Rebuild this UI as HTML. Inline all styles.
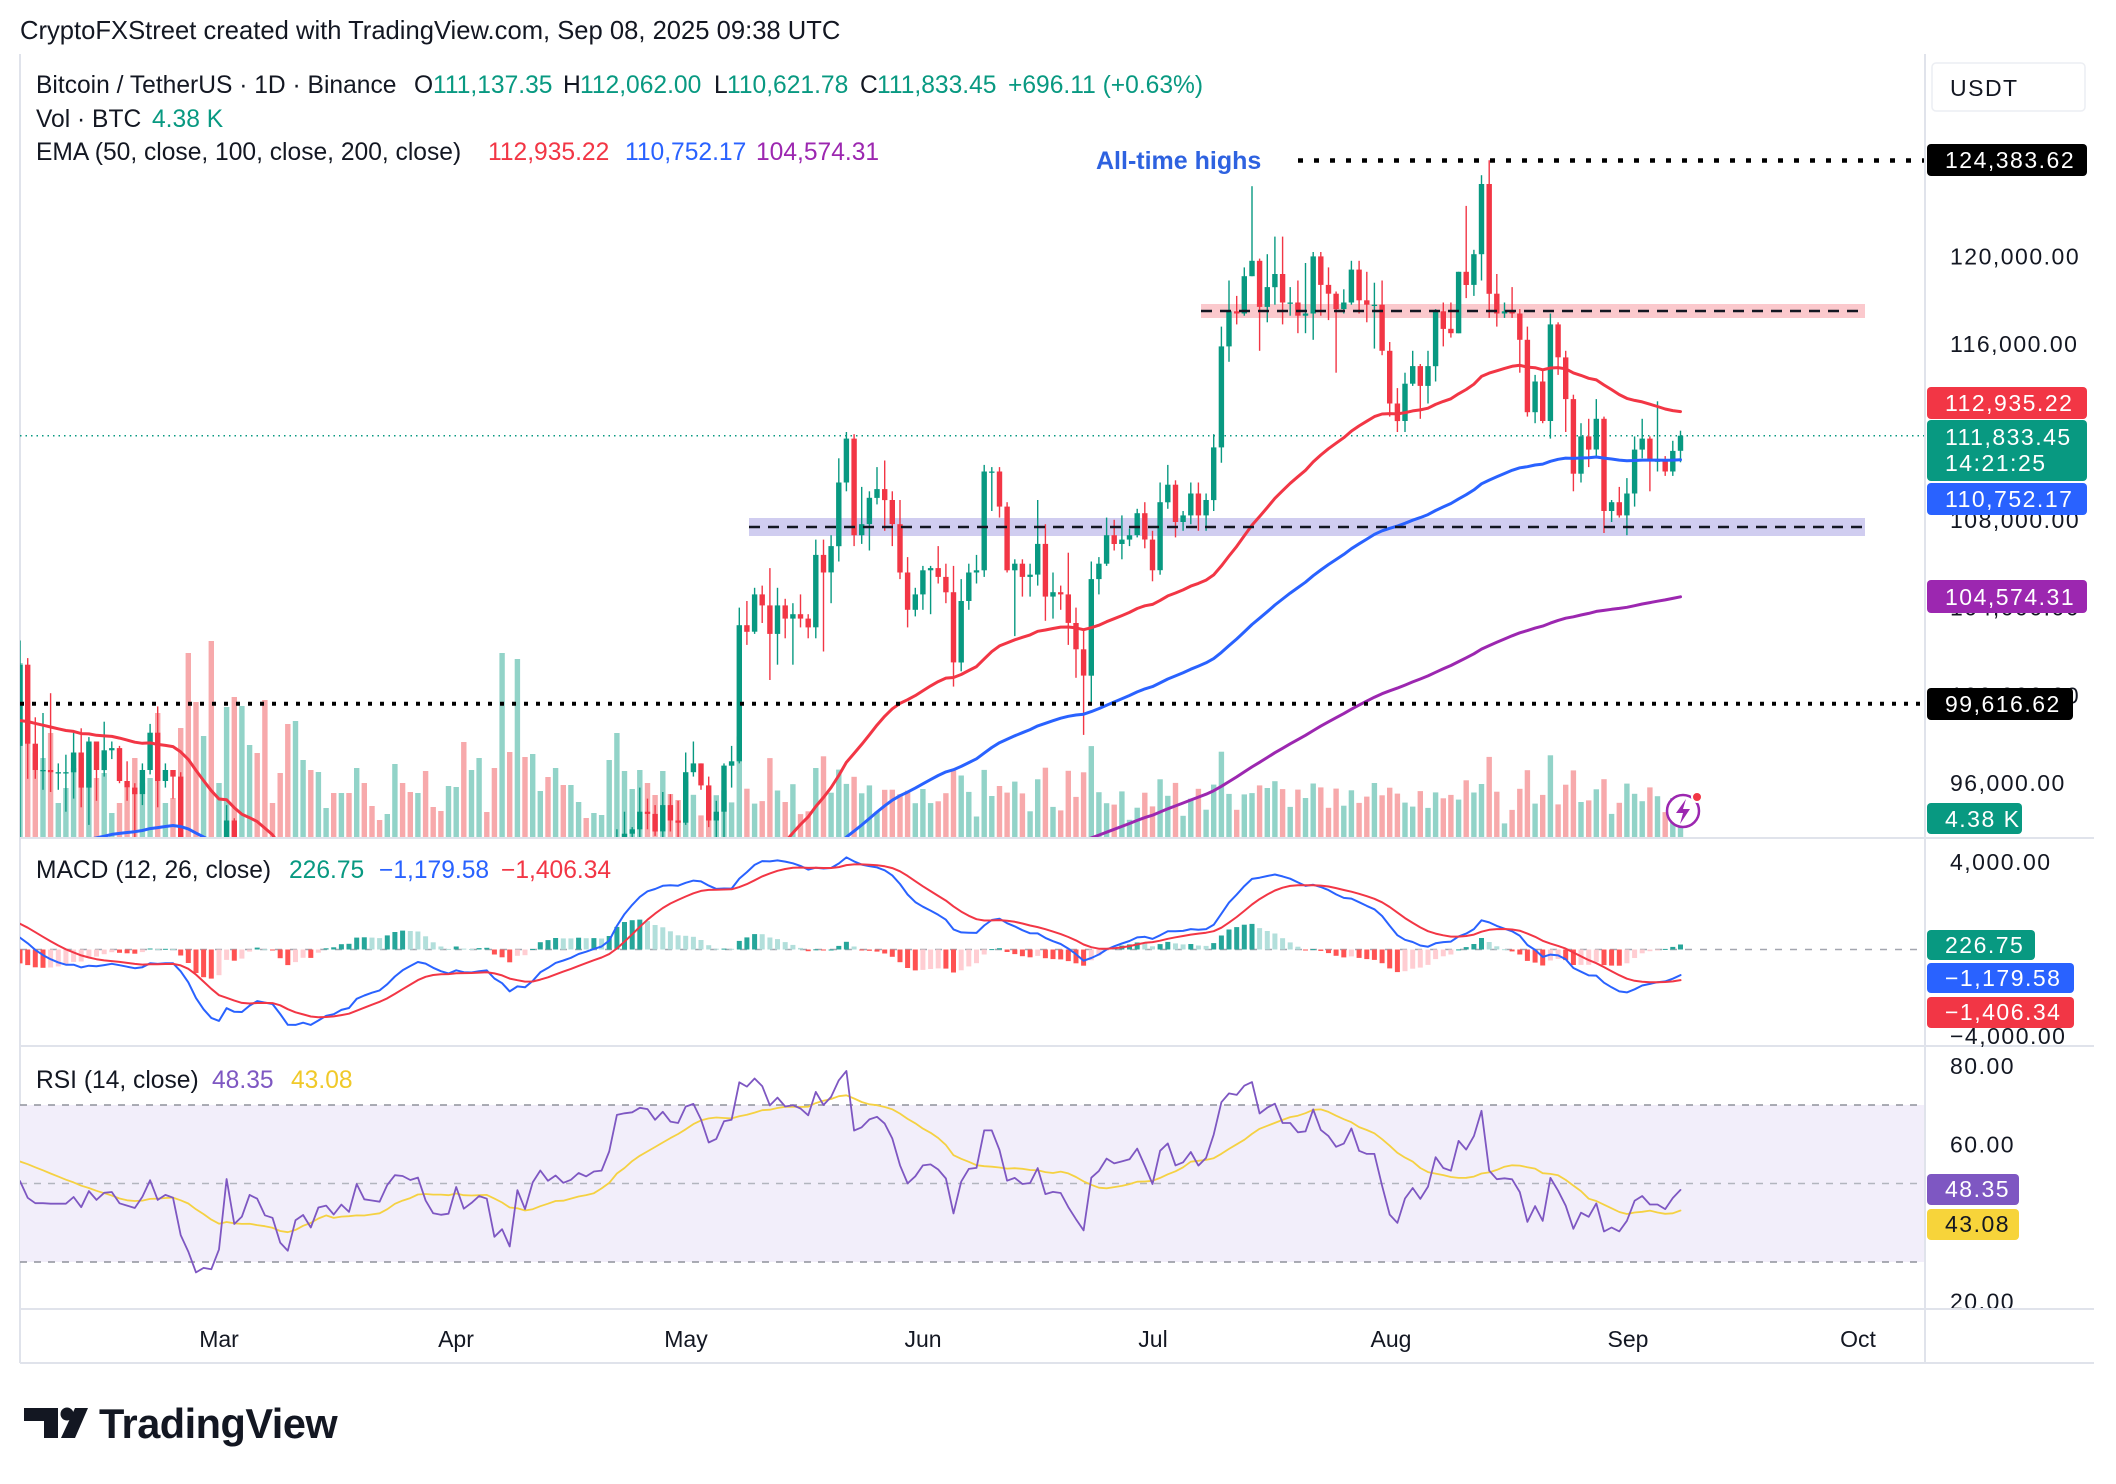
<!DOCTYPE html>
<html><head><meta charset="utf-8">
<style>
html,body{margin:0;padding:0;background:#fff;}
svg{display:block;}
text{font-family:"Liberation Sans",Arial,sans-serif;}
.ax{font-size:23px;fill:#131722;letter-spacing:1.5px;}
.bx{font-size:23px;fill:#fff;letter-spacing:1.5px;}
.lg{font-size:24.6px;}
</style></head>
<body>
<svg id="s" xmlns="http://www.w3.org/2000/svg" width="2116" height="1484" viewBox="0 0 2116 1484">
<defs>
<clipPath id="cm"><rect x="20" y="54" width="1904" height="783"/></clipPath>
<clipPath id="cd"><rect x="20" y="839" width="1904" height="206"/></clipPath>
<clipPath id="cr"><rect x="20" y="1047" width="1904" height="261"/></clipPath>
<clipPath id="ar"><rect x="1926" y="1047" width="190" height="261"/></clipPath>
</defs>
<rect width="2116" height="1484" fill="#fff"/>
<text x="20" y="39" font-size="25.6" fill="#131722">CryptoFXStreet created with TradingView.com, Sep 08, 2025 09:38 UTC</text>

<g stroke="#e0e3eb" stroke-width="2">
 <line x1="20" y1="54" x2="20" y2="1363"/>
 <line x1="1925" y1="54" x2="1925" y2="1363"/>
 <line x1="20" y1="838" x2="2094" y2="838"/>
 <line x1="20" y1="1046" x2="2094" y2="1046"/>
 <line x1="20" y1="1309" x2="2094" y2="1309"/>
 <line x1="20" y1="1363" x2="2094" y2="1363"/>
</g>

<rect x="20" y="1105" width="1904" height="157" fill="#f2eefa"/>
<g stroke="#8f929b" stroke-width="1.4" stroke-dasharray="7 7">
 <line x1="20" y1="1105" x2="1924" y2="1105"/>
 <line x1="20" y1="1183.5" x2="1924" y2="1183.5" stroke="#b2b5be"/>
 <line x1="20" y1="1262" x2="1924" y2="1262"/>
</g>
<line x1="20" y1="949.5" x2="1924" y2="949.5" stroke="#a3a6af" stroke-width="1.4" stroke-dasharray="7 8"/>

<g id="main" clip-path="url(#cm)"></g>
<g id="macd" clip-path="url(#cd)"></g>
<g id="rsi" clip-path="url(#cr)"></g>

<text x="1096" y="169" font-size="25" font-weight="bold" fill="#2e62e0">All-time highs</text>

<g>
 <circle cx="1683" cy="811" r="16" fill="#fff" stroke="#9c27b0" stroke-width="2.5"/>
 <path d="M1686 799 L1676 813 L1683 813 L1680 824 L1690 809 L1683 809 Z" fill="#9c27b0"/>
 <circle cx="1697" cy="797" r="5" fill="#f23645" stroke="#fff" stroke-width="2"/>
</g>

<g class="lg">
 <text x="36" y="93" fill="#131722">Bitcoin / TetherUS · 1D · Binance</text>
 <text x="414" y="93" fill="#131722">O</text><text x="433" y="93" fill="#089981">111,137.35</text>
 <text x="563" y="93" fill="#131722">H</text><text x="580" y="93" fill="#089981">112,062.00</text>
 <text x="714" y="93" fill="#131722">L</text><text x="727" y="93" fill="#089981">110,621.78</text>
 <text x="860" y="93" fill="#131722">C</text><text x="877" y="93" fill="#089981">111,833.45</text>
 <text x="1008" y="93" fill="#089981">+696.11 (+0.63%)</text>
 <text x="36" y="127" fill="#131722">Vol · BTC</text><text x="152" y="127" fill="#089981">4.38 K</text>
 <text x="36" y="160" fill="#131722">EMA (50, close, 100, close, 200, close)</text>
 <text x="488" y="160" fill="#f23645">112,935.22</text>
 <text x="625" y="160" fill="#2962ff">110,752.17</text>
 <text x="756" y="160" fill="#9c27b0">104,574.31</text>
 <text x="36" y="878" fill="#131722">MACD (12, 26, close)</text>
 <text x="289" y="878" fill="#089981">226.75</text>
 <text x="379" y="878" fill="#2962ff">−1,179.58</text>
 <text x="501" y="878" fill="#f23645">−1,406.34</text>
 <text x="36" y="1088" fill="#131722">RSI (14, close)</text>
 <text x="212" y="1088" fill="#7e57c2">48.35</text>
 <text x="291" y="1088" fill="#f0c929">43.08</text>
</g>

<rect x="1932" y="63" width="153" height="48" rx="4" fill="#fff" stroke="#eceef3" stroke-width="1.5"/>
<text x="1950" y="96" class="ax">USDT</text>
<g class="ax">
 <text x="1950" y="264.4">120,000.00</text>
 <text x="1950" y="352.2">116,000.00</text>
 <text x="1950" y="440">112,000.00</text>
 <text x="1950" y="527.8">108,000.00</text>
 <text x="1950" y="615.6">104,000.00</text>
 <text x="1950" y="703.4">100,000.00</text>
 <text x="1950" y="791.2">96,000.00</text>
 <text x="1950" y="870">4,000.00</text>
 <text x="1950" y="1044">−4,000.00</text>
</g>
<g class="ax" clip-path="url(#ar)">
 <text x="1950" y="1074">80.00</text>
 <text x="1950" y="1152.5">60.00</text>
 <text x="1950" y="1231">40.00</text>
 <text x="1950" y="1309.5">20.00</text>
</g>

<g>
 <rect x="1927" y="144" width="160" height="32" rx="4" fill="#000"/><text x="1945" y="168" class="bx">124,383.62</text>
 <rect x="1927" y="387" width="160" height="32" rx="4" fill="#f23645"/><text x="1945" y="411" class="bx">112,935.22</text>
 <rect x="1927" y="420" width="160" height="61" rx="4" fill="#089981"/><text x="1945" y="445" class="bx">111,833.45</text><text x="1945" y="471" class="bx">14:21:25</text>
 <rect x="1927" y="483" width="160" height="32" rx="4" fill="#2962ff"/><text x="1945" y="507" class="bx">110,752.17</text>
 <rect x="1927" y="580" width="160" height="33" rx="4" fill="#9c27b0"/><text x="1945" y="605" class="bx">104,574.31</text>
 <rect x="1927" y="688" width="146" height="32" rx="4" fill="#000"/><text x="1945" y="712" class="bx">99,616.62</text>
 <rect x="1927" y="803" width="95" height="31" rx="4" fill="#089981"/><text x="1945" y="827" class="bx">4.38 K</text>
 <rect x="1927" y="930" width="108" height="30" rx="4" fill="#089981"/><text x="1945" y="953" class="bx">226.75</text>
 <rect x="1927" y="963" width="147" height="30" rx="4" fill="#2962ff"/><text x="1945" y="986" class="bx">−1,179.58</text>
 <rect x="1927" y="997" width="147" height="31" rx="4" fill="#f23645"/><text x="1945" y="1020" class="bx">−1,406.34</text>
 <rect x="1927" y="1174" width="92" height="31" rx="4" fill="#7e57c2"/><text x="1945" y="1197" class="bx">48.35</text>
 <rect x="1927" y="1209" width="92" height="31" rx="4" fill="#f7d43a"/><text x="1945" y="1232" class="bx" style="fill:#131722">43.08</text>
</g>

<g font-size="23" fill="#131722" text-anchor="middle">
 <text x="219" y="1347">Mar</text>
 <text x="456" y="1347">Apr</text>
 <text x="686" y="1347">May</text>
 <text x="923" y="1347">Jun</text>
 <text x="1153" y="1347">Jul</text>
 <text x="1391" y="1347">Aug</text>
 <text x="1628" y="1347">Sep</text>
 <text x="1858" y="1347">Oct</text>
</g>

<g fill="#131722">
 <path d="M24 1408 H58 V1438 H44 V1421 H24 Z"/>
 <circle cx="67" cy="1414" r="6.5"/>
 <path d="M75 1408 H88 L75 1438 H61 Z"/>
 <text x="99" y="1438" font-size="41.5" font-weight="bold" letter-spacing="-0.5">TradingView</text>
</g>
</svg>

<script>
(function(){
var D=[
101.4,102.5,91.2, 97.8,101.7,96.2, 96.6,99.0,96.2, 96.6,99.2,95.7, 96.5,100.1,95.6, 96.5,96.9,95.7, 96.5,97.3,94.7, 97.4,98.3,95.3, 95.8,98.5,94.9, 97.9,98.1,94.1,
96.6,97.3,95.2, 97.5,98.8,96.3, 97.6,97.9,97.1, 96.1,97.7,96.0, 95.8,97.0,95.2, 95.5,96.0,93.4, 96.6,96.9,95.0, 98.3,98.7,96.4, 96.1,99.5,94.9, 96.6,96.9,95.8,
96.3,96.5,95.3, 91.5,96.5,91.2, 88.7,92.5,86.1, 84.3,89.3,82.3, 84.7,87.1,82.7, 84.4,85.0,78.3,
86.1,86.6,83.6, 94.3,95.0,85.0, 86.1,94.4,85.1, 87.2,88.9,81.5, 90.6,91.0,86.4, 89.9,92.8,87.8, 86.7,91.2,84.7, 86.2,86.9,85.2, 80.7,86.5,80.0, 78.6,83.9,77.5,
82.9,83.6,76.6, 83.7,84.4,80.6, 81.0,84.3,79.9, 84.0,85.3,80.8, 84.3,84.7,83.6, 82.6,85.0,82.0, 84.0,84.7,82.5, 82.7,84.0,81.1, 86.8,87.4,82.1, 84.2,87.4,83.2,
84.0,84.8,83.2, 83.8,84.5,83.6, 86.1,86.2,83.7, 87.5,88.8,85.5, 87.4,88.5,86.3, 86.9,88.3,85.9, 87.2,87.8,85.8, 84.4,87.5,83.6, 82.6,84.6,81.6, 82.4,83.9,81.3,
82.5,83.9,81.3,
85.2,85.6,82.4, 82.5,88.5,82.3, 83.1,83.9,81.2, 83.8,84.7,81.7, 83.5,84.2,82.4, 78.4,83.8,77.2, 79.1,81.2,74.5, 76.3,80.8,76.2, 82.6,83.5,74.6, 79.6,82.7,78.5,
83.4,84.3,78.9, 85.3,85.9,82.0, 83.8,86.1,83.0, 84.6,85.8,83.6, 83.6,86.5,83.6, 84.0,85.5,83.1, 84.9,85.5,83.9, 84.5,85.0,84.1, 85.1,85.6,84.3, 85.2,85.3,83.9,
87.5,88.9,85.1, 93.4,93.9,87.6, 93.7,94.7,91.9, 93.9,94.0,91.7, 94.7,95.8,92.9, 94.6,95.3,93.9, 93.8,95.0,93.6, 95.0,95.6,92.9, 94.3,95.5,93.8, 94.2,95.2,92.9,
96.5,97.4,94.1, 96.9,97.9,96.3, 95.9,96.9,95.7, 94.3,96.3,94.0, 94.7,95.2,93.5, 96.8,96.9,93.4, 97.0,97.7,95.8, 103.2,104.0,96.9, 102.9,104.3,102.3, 104.6,104.9,102.8,
104.1,105.0,103.3, 102.8,105.8,100.7, 104.1,104.9,101.4, 103.5,104.4,102.6, 103.7,104.2,101.4, 103.5,104.6,103.1, 103.1,103.7,102.6, 106.4,107.1,102.6, 105.6,107.1,102.0, 106.8,107.3,104.2,
109.7,110.8,106.1, 111.7,112.0,109.3, 107.3,111.9,106.8, 107.8,109.5,106.9, 109.0,109.3,106.6, 109.4,110.4,108.7, 108.9,110.7,107.5, 107.8,109.3,106.8, 105.6,108.9,105.3, 103.9,106.3,103.1,
104.6,104.9,103.6,
105.7,105.9,103.9, 105.8,105.9,103.7, 105.4,106.8,105.1, 104.7,106.0,104.2, 101.5,105.9,100.4, 104.3,105.3,101.1, 105.6,106.0,103.9, 105.7,106.4,105.1, 110.2,110.5,105.4, 110.2,110.4,108.4,
108.6,110.4,108.1, 105.7,108.8,105.6, 106.0,106.2,102.7, 105.4,106.2,104.5, 105.5,106.0,104.5, 106.9,108.9,105.0, 104.5,107.8,103.4, 104.7,105.6,103.5, 104.6,105.0,103.9, 103.3,106.5,102.3,
102.1,104.0,100.8, 100.9,103.0,98.2, 105.3,106.1,99.6, 106.0,106.3,104.6, 107.3,108.1,105.9, 106.9,108.0,106.6, 107.1,108.2,106.2, 107.3,107.6,106.8, 108.3,108.5,107.2, 107.1,108.8,106.7,
105.7,107.5,105.2, 108.8,109.7,105.5, 109.6,110.5,108.5, 107.9,109.8,107.2, 108.2,108.4,107.5, 109.2,109.7,107.8, 108.2,109.7,107.5, 108.9,109.2,107.5, 111.3,111.9,108.4, 115.9,116.8,110.6,
117.5,118.9,115.2, 117.4,118.2,116.9, 119.1,119.5,117.3, 119.8,123.2,119.1, 117.7,119.9,115.7, 118.6,120.1,117.0, 119.2,120.9,117.8, 117.9,120.9,116.9, 117.9,118.6,117.3, 117.3,118.9,116.5,
117.4,119.7,116.5, 120.0,120.2,116.2, 118.7,120.2,117.3, 118.3,119.5,117.1, 117.6,118.4,114.7, 117.9,118.5,117.4, 119.4,119.8,117.8, 118.0,119.8,117.4, 117.8,119.3,117.0, 117.8,118.8,115.8,
115.7,118.9,115.5,
113.3,116.1,112.7, 112.5,114.0,112.0, 114.2,114.7,112.0, 115.0,115.7,114.1, 114.1,115.1,112.6, 115.0,115.7,113.3, 117.5,117.6,114.3, 116.7,117.9,115.9, 116.5,117.9,116.3, 119.3,119.3,116.5,
118.7,122.3,118.1, 120.1,120.3,118.2, 123.3,123.7,118.9, 118.3,124.38,117.2, 117.4,119.2,116.8, 117.5,117.9,117.2, 117.4,118.6,117.2, 116.2,117.6,114.7, 112.9,116.8,112.7, 114.3,114.6,112.4,
112.5,114.8,112.4, 116.9,117.4,111.7, 115.4,117.0,114.6, 113.5,115.7,112.0, 110.1,113.7,109.3, 111.8,112.4,109.7, 111.2,112.6,110.4, 112.6,113.5,110.9, 108.4,112.7,107.4, 108.8,108.9,107.9,
108.2,109.5,108.1,
109.2,109.9,107.3, 111.2,111.8,108.6, 111.7,112.6,110.8, 110.7,111.8,109.3, 110.7,113.4,110.2, 110.2,110.9,110.0, 111.14,111.6,110.0, 111.83,112.06,110.62
];
var VE=[175,130,85,80,105,35,50,70,80,95,60,65,25,35,50,80,55,60,125,35,40,110,
185,136,102,197,
55,131,141,132,93,85,138,35,65,114,117,78,68,66,30,45,45,45,70,55,32,18,24,74,55,46,45,67,31,27,52,
51,96,68,80,26,70,185,86,179,81,84,47,61,70,53,53,36,20,25,23,78,105,67,49,68,55,43,67,44,38];
var NS="http://www.w3.org/2000/svg";
var N=D.length/3;
function X(i){return 20+i*7.652;}
function Y(p){return 256.4+(120-p)*21.95;}
var O=[],H=[],L=[],C=[];
var prev=97.7;
for(var i=0;i<N;i++){var c=D[3*i],h=D[3*i+1],l=D[3*i+2],o=prev;h=Math.max(h,o,c);l=Math.min(l,o,c);O.push(o);H.push(h);L.push(l);C.push(c);prev=c;}
function el(parent,tag,attrs){var e=document.createElementNS(NS,tag);for(var k in attrs){e.setAttribute(k,attrs[k]);}parent.appendChild(e);return e;}
function f(v){return v.toFixed(1);}
var gm=document.getElementById('main');
for(var i=0;i<N;i++){
 var v=i<VE.length?VE[i]:Math.max(10,18+1100*(H[i]-L[i])/O[i]+(((i*7919)%23)-11));
 var up=C[i]>=O[i];
 el(gm,'rect',{x:f(X(i)-2.7),y:f(838-v),width:'5.4',height:f(v),fill:up?'#92d3c8':'#f7a9ab'});
}
el(gm,'rect',{x:1201,y:304,width:664,height:14,fill:'rgba(242,54,69,0.27)'});
el(gm,'rect',{x:749,y:518,width:1116,height:18,fill:'rgba(80,70,200,0.27)'});
el(gm,'line',{x1:20,y1:435.7,x2:1924,y2:435.7,stroke:'#089981','stroke-width':1.5,'stroke-dasharray':'1.5 4'});
for(var i=0;i<N;i++){
 var up=C[i]>=O[i],col=up?'#089981':'#f23645',x=X(i);
 el(gm,'line',{x1:f(x),y1:f(Y(H[i])),x2:f(x),y2:f(Y(L[i])),stroke:col,'stroke-width':1.4});
 var yt=Y(Math.max(O[i],C[i])),yb=Y(Math.min(O[i],C[i]));
 el(gm,'rect',{x:f(x-2.7),y:f(yt),width:'5.4',height:f(Math.max(1.3,yb-yt)),fill:col});
}
function ema(arr,n,seed){var a=2/(n+1),e=seed,out=[];for(var j=0;j<arr.length;j++){e=e+a*(arr[j]-e);out.push(e);}return out;}
function pl(g,arr,fy,col,w){var pts=[];for(var j=0;j<arr.length;j++){pts.push(f(X(j))+','+f(fy(arr[j])));}
 el(g,'polyline',{points:pts.join(' '),fill:'none',stroke:col,'stroke-width':w,'stroke-linejoin':'round','stroke-linecap':'round'});}
pl(gm,ema(C,200,82.3),Y,'#9c27b0',3);
pl(gm,ema(C,100,92.6),Y,'#2962ff',3);
pl(gm,ema(C,50,98.75),Y,'#f23645',3);
el(gm,'line',{x1:1201,y1:311,x2:1865,y2:311,stroke:'#131722','stroke-width':2.6,'stroke-dasharray':'11 8'});
el(gm,'line',{x1:749,y1:527,x2:1865,y2:527,stroke:'#131722','stroke-width':2.6,'stroke-dasharray':'11 8'});
el(gm,'line',{x1:1298,y1:160.5,x2:1924,y2:160.5,stroke:'#000','stroke-width':4.5,'stroke-dasharray':'5 11'});
el(gm,'line',{x1:20,y1:703.8,x2:1924,y2:703.8,stroke:'#000','stroke-width':4,'stroke-dasharray':'4 8'});

var gd=document.getElementById('macd');
var e12=ema(C,12,100.40),e26=ema(C,26,99.9);
var M=[];for(var i=0;i<N;i++){M.push(e12[i]-e26[i]);}
var SG=ema(M,9,1.34);
function YM(v){return 949.5-v*21.75;}
var ph=-0.5;
for(var i=0;i<N;i++){
 var hv=M[i]-SG[i],col;
 if(hv>=0){col=hv>ph?'#26a69a':'#b2dfdb';}else{col=hv<ph?'#ff5252':'#ffcdd2';}
 ph=hv;
 var y=YM(hv),top=Math.min(y,949.5),ht=Math.max(1,Math.abs(y-949.5));
 el(gd,'rect',{x:f(X(i)-2.5),y:f(top),width:'5',height:f(ht),fill:col});
}
pl(gd,M,YM,'#2962ff',2);
pl(gd,SG,YM,'#f23645',2);

var gr=document.getElementById('rsi');
var ag=1.355,al=1.6,p=97.7,R=[];
for(var i=0;i<N;i++){var ch=C[i]-p,g=ch>0?ch:0,lo=ch<0?-ch:0;ag=(ag*13+g)/14;al=(al*13+lo)/14;R.push(al===0?100:100-100/(1+ag/al));p=C[i];}
var buf=[];for(var k=0;k<13;k++){buf.push(56);}buf=buf.concat(R);
var MA=[];for(var i=0;i<N;i++){var t=0;for(var k=i;k<i+14;k++){t+=buf[k];}MA.push(t/14);}
function YR(r){return 1183.5-(r-50)*3.925;}
pl(gr,MA,YR,'#f5d142',1.8);
pl(gr,R,YR,'#7e57c2',1.8);
})();
</script>
</body></html>
